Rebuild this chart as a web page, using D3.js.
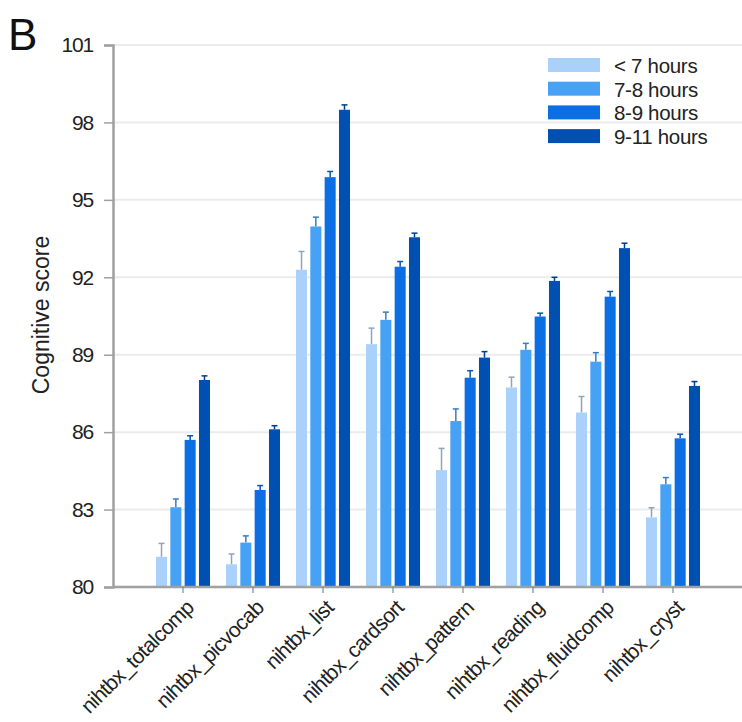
<!DOCTYPE html>
<html>
<head>
<meta charset="utf-8">
<script src="https://cdn.jsdelivr.net/npm/d3@7"></script>
<style>
  html, body { margin: 0; padding: 0; background: #fff; }
  svg { display: block; font-family: "Liberation Sans", Arial, sans-serif; }
</style>
</head>
<body>
<svg id="chart" width="742" height="722"></svg>
<script>
const categories = ["nihtbx_totalcomp", "nihtbx_picvocab", "nihtbx_list", "nihtbx_cardsort",
  "nihtbx_pattern", "nihtbx_reading", "nihtbx_fluidcomp", "nihtbx_cryst"];
const seriesNames = ["< 7 hours", "7-8 hours", "8-9 hours", "9-11 hours"];
const seriesColors = ["#a9d1fa", "#47a2f6", "#0b6ee2", "#0050b2"];
// means per series, in category order
const under7 = [81.17, 80.88, 92.29, 89.41, 84.53, 87.73, 86.76, 82.70];
const h7to8  = [83.09, 81.72, 93.97, 90.35, 86.43, 89.19, 88.73, 83.98];
const h8to9  = [85.70, 83.76, 95.88, 92.41, 88.11, 90.48, 91.25, 85.76];
const h9to11 = [88.02, 86.11, 98.49, 93.55, 88.89, 91.86, 93.13, 87.79];
// upper error bar ends
const under7Err = [81.69, 81.28, 93.00, 90.03, 85.37, 88.13, 87.38, 83.07];
const h7to8Err  = [83.41, 81.98, 94.33, 90.65, 86.90, 89.44, 89.08, 84.24];
const h8to9Err  = [85.86, 83.93, 96.10, 92.61, 88.38, 90.61, 91.45, 85.92];
const h9to11Err = [88.18, 86.25, 98.68, 93.71, 89.12, 92.00, 93.32, 87.96];
const yTicks = [80, 83, 86, 89, 92, 95, 98, 101];

const means = [under7, h7to8, h8to9, h9to11];
const errs = [under7Err, h7to8Err, h8to9Err, h9to11Err];

const svg = d3.select("#chart");
const axisX = 113, plotTop = 45, plotBottom = 587, plotRight = 742;

const y = d3.scaleLinear().domain([80, 101]).range([plotBottom, plotTop]);
const x = d3.scaleBand().domain(categories).range([148, 708]).paddingInner(0).paddingOuter(0);
const xs = d3.scaleBand().domain(seriesNames).range([-27, 27]).paddingInner(0.23).paddingOuter(0);

// gridlines
svg.append("g").selectAll("line").data(yTicks.filter(t => t !== 80)).join("line")
  .attr("x1", axisX).attr("x2", plotRight)
  .attr("y1", d => y(d)).attr("y2", d => y(d))
  .attr("stroke", "#ebebeb").attr("stroke-width", 2);

// Y axis
const yAxis = svg.append("g").attr("transform", `translate(${axisX},0)`)
  .call(d3.axisLeft(y).tickValues(yTicks).tickSize(9).tickPadding(11).tickFormat(d3.format("d")));
yAxis.select(".domain").attr("stroke", "#a0a0a0").attr("stroke-width", 2.5);
yAxis.selectAll(".tick line").attr("stroke", "#a0a0a0").attr("stroke-width", 1.5);
yAxis.selectAll(".tick text").attr("font-size", 21).attr("fill", "#222")
  .attr("font-family", "'Liberation Sans', Arial, sans-serif").attr("letter-spacing", "-1.2");

// bars
const groups = svg.append("g").selectAll("g").data(categories).join("g")
  .attr("transform", d => `translate(${x(d) + x.bandwidth() / 2},0)`);

seriesNames.forEach((s, si) => {
  const ec = si === 0 ? "#8fa5b8" : d3.color(seriesColors[si]).darker(0.7);
  groups.append("line")
    .attr("x1", xs(s) + xs.bandwidth() / 2).attr("x2", xs(s) + xs.bandwidth() / 2)
    .attr("y1", (d, i) => y(means[si][i])).attr("y2", (d, i) => y(errs[si][i]))
    .attr("stroke", ec).attr("stroke-width", 1.5);
  groups.append("line")
    .attr("x1", xs(s) + xs.bandwidth() / 2 - 3).attr("x2", xs(s) + xs.bandwidth() / 2 + 3)
    .attr("y1", (d, i) => y(errs[si][i])).attr("y2", (d, i) => y(errs[si][i]))
    .attr("stroke", ec).attr("stroke-width", 1.5);
  groups.append("rect")
    .attr("x", xs(s)).attr("width", xs.bandwidth())
    .attr("y", (d, i) => y(means[si][i]))
    .attr("height", (d, i) => plotBottom - y(means[si][i]))
    .attr("fill", seriesColors[si]);
});

// X axis
const xAxis = svg.append("g").attr("transform", `translate(0,${plotBottom})`)
  .call(d3.axisBottom(x).tickSize(6).tickSizeOuter(0));
xAxis.select(".domain").attr("d", `M${axisX},0H${plotRight}`).attr("stroke", "#a0a0a0").attr("stroke-width", 2.5);
xAxis.selectAll(".tick line").attr("stroke", "#888").attr("stroke-width", 1.2);
xAxis.selectAll(".tick text")
  .attr("font-size", 21).attr("fill", "#222")
  .attr("font-family", "'Liberation Sans', Arial, sans-serif")
  .attr("text-anchor", "end").attr("dy", null).attr("y", 0)
  .attr("transform", "translate(12,22) rotate(-45)")
  .attr("letter-spacing", "-0.6");

// Y title
svg.append("text")
  .attr("transform", `translate(49,315) rotate(-90)`)
  .attr("text-anchor", "middle")
  .attr("font-size", 23).attr("fill", "#222")
  .text("Cognitive score");

// panel letter
svg.append("text").attr("x", 8).attr("y", 50).attr("font-size", 44).attr("fill", "#111").text("B");

// legend
const legend = svg.append("g").attr("transform", "translate(548,58)");
seriesNames.forEach((s, i) => {
  legend.append("rect").attr("x", 0).attr("y", i * 23.7).attr("width", 52).attr("height", 14)
    .attr("fill", seriesColors[i]);
  legend.append("text").attr("x", 66).attr("y", i * 23.7 + 15).attr("font-size", 20.5)
    .attr("letter-spacing", "-0.3")
    .attr("fill", "#222").text(s);
});
</script>
</body>
</html>
